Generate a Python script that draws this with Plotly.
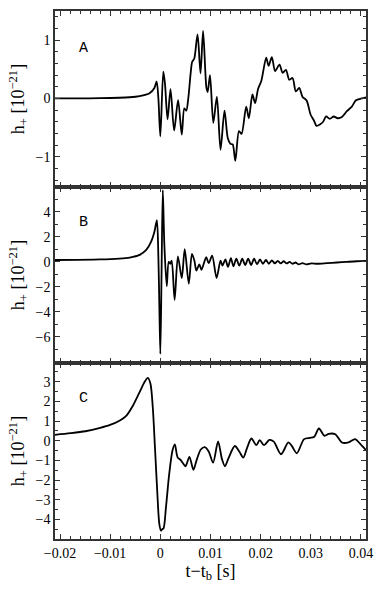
import numpy as np
import plotly.graph_objects as go
from plotly.subplots import make_subplots

# time axis in ms relative to bounce, strain in units of 1e-21
t_a = [-21.0, -12.0, -6.1, -4.13, -2.16, -1.18, -0.73, -0.39, 0.0, 0.59, 0.92, 1.44, 2.03,
       2.75, 3.54, 4.27, 4.78, 5.17, 5.57, 6.04, 6.35, 6.75, 7.42, 8.01, 8.52, 9.19, 9.44,
       9.90, 10.56, 11.27, 12.00, 12.79, 13.44, 13.97, 14.42, 14.95, 15.68, 16.19, 17.12,
       17.65, 18.36, 18.89, 19.48, 20.13, 21.11, 21.58, 22.23, 22.88, 23.75, 24.39, 25.04,
       25.71, 26.36, 27.01, 27.68, 28.33, 29.18, 29.96, 30.63, 31.14, 31.93, 32.46, 33.05,
       33.78, 34.57, 35.35, 36.20, 37.18, 38.17, 39.01, 40.13, 41.0]
h_a = [0.0, 0.005, 0.02, 0.04, 0.09, 0.18, 0.29, 0.0, -0.65, 0.46, 0.26, -0.36, 0.16,
       -0.55, -0.03, -0.62, -0.17, -0.21, 0.0, 0.43, 0.63, 0.68, 1.10, 0.43, 1.16, 0.18, 0.11,
       0.40, -0.42, 0.03, -0.88, -0.21, -0.68, -0.78, -0.79, -1.07, -0.56, -0.61, -0.14,
       -0.34, 0.07, -0.08, 0.16, 0.30, 0.70, 0.56, 0.71, 0.47, 0.58, 0.44, 0.49,
       0.32, 0.35, 0.12, 0.18, 0.03, -0.04, -0.28, -0.38, -0.47, -0.44, -0.40, -0.31,
       -0.35, -0.31, -0.34, -0.32, -0.22, -0.14, -0.03, 0.0, 0.02]

t_b = [-21.0, -12.0, -6.1, -4.13, -2.81, -1.83, -1.18, -0.69, -0.39, -0.20, 0.0, 0.24, 0.49,
       0.79, 1.28, 1.67, 1.97, 2.26, 2.85, 3.50, 4.27, 4.86, 5.67, 6.30, 6.79, 7.18, 7.77,
       8.20, 9.15, 9.64, 10.33, 11.21, 12.0, 12.39, 12.98, 13.48, 14.07, 14.56, 15.15, 15.74,
       16.33, 16.92, 17.51, 18.10, 18.69, 19.28, 19.87, 20.46, 21.05, 21.64, 22.23, 22.82,
       23.41, 24.00, 24.59, 25.18, 25.77, 26.36, 26.95, 27.54, 28.33, 29.12, 30.10, 31.28,
       33.25, 35.21, 37.18, 39.15, 41.0]
h_b = [0.15, 0.2, 0.35, 0.56, 0.96, 1.62, 2.41, 3.34, 0.4, -3.5, -7.37, -1.0, 5.75,
       1.5, -1.95, 0.0, -0.15, 0.1, -3.05, 0.45, -1.29, 1.03, -1.75, 0.64, 0.1, -0.7, -0.2,
       -0.63, 0.38, -0.1, 0.5, -1.29, 0.1, -0.3, 0.2, -0.4, 0.3, -0.35, 0.25, -0.3,
       0.25, -0.25, 0.25, -0.25, 0.25, -0.2, 0.2, -0.15, 0.15, -0.15, 0.12, -0.12,
       0.08, -0.12, 0.05, -0.12, 0.0, -0.15, -0.05, -0.2, -0.1, -0.2, -0.12, -0.15,
       -0.1, -0.05, 0.0, 0.05, 0.08]

t_c = [-21.0, -17.9, -14.95, -12.0, -10.03, -8.07, -6.75, -5.45, -4.13, -3.15, -2.50, -1.97,
       -1.51, -1.04, -0.59, -0.20, 0.14, 0.39, 0.65, 1.12, 1.77, 2.42, 2.89, 3.44, 4.03,
       4.52, 5.02, 5.80, 6.59, 7.28, 8.07, 8.85, 9.64, 10.52, 11.51, 12.30, 12.89, 13.57,
       14.85, 15.74, 16.53, 17.31, 18.16, 19.14, 19.81, 20.66, 21.74, 22.62, 24.06, 25.52,
       26.17, 27.21, 28.66, 29.84, 30.69, 31.61, 32.72, 33.58, 34.88, 36.20, 37.52, 38.82,
       39.80, 41.0]
h_c = [0.3, 0.38, 0.48, 0.65, 0.8, 1.03, 1.28, 1.79, 2.47, 2.98, 3.19, 2.9,
       1.71, -0.5, -2.71, -4.24, -4.58, -4.5, -4.45, -3.39, -1.69, -0.5, -0.19, -0.85, -0.98,
       -1.15, -1.3, -0.82, -1.48, -0.95, -0.45, -0.33, -0.55, -1.12, -0.04, -0.95, -1.3, -0.9,
       -0.27, -0.55, -0.86, -0.35, 0.11, -0.23, 0.03, -0.23, 0.04, -0.05, -0.69, -0.09,
       -0.25, -0.64, 0.08, 0.14, 0.2, 0.62, 0.25, 0.35, 0.33, -0.09, -0.09, 0.08,
       -0.15, -0.48]

x_ticks = [-0.02, -0.01, 0, 0.01, 0.02, 0.03, 0.04]
x_ticktext = ["−0.02", "−0.01", "0", "0.01", "0.02", "0.03", "0.04"]

panels = [("A", t_a, h_a, [-1.52, 1.5], [-1, 0, 1], 0.2, 0.85),
          ("B", t_b, h_b, [-8.1, 6.0], [-6, -4, -2, 0, 2, 4], 1, 3.13),
          ("C", t_c, h_c, [-5.0, 3.95], [-4, -3, -2, -1, 0, 1, 2, 3], 0.5, 2.15)]

fig = make_subplots(rows=3, cols=1, shared_xaxes=True, vertical_spacing=0)

serif = "Liberation Serif, DejaVu Serif, serif"
mono = "Liberation Mono, DejaVu Sans Mono, monospace"
axis_style = dict(showline=True, linecolor="#333", linewidth=1.5, mirror="allticks",
                  ticks="inside", ticklen=5, tickcolor="#333", tickwidth=1.2,
                  showgrid=False, zeroline=False, ticklabeloverflow="allow",
                  tickfont=dict(family=serif, size=14, color="black"))

for i, (label, t, h, yr, yt, mdt, ly) in enumerate(panels, start=1):
    fig.add_trace(go.Scatter(x=np.array(t) / 1000, y=h, mode="lines",
                             line=dict(color="black", width=1.8, shape="spline", smoothing=0.8),
                             showlegend=False), row=i, col=1)
    fig.update_yaxes(axis_style, range=yr, tickvals=yt,
                     minor=dict(dtick=mdt, tick0=0, ticks="inside", ticklen=3, tickcolor="#333"),
                     title=dict(text="h<sub>+</sub> [10<sup>−21</sup>]",
                                font=dict(family=serif, size=18, color="black"), standoff=6),
                     row=i, col=1)
    fig.update_xaxes(axis_style, range=[-0.021, 0.041], tickvals=x_ticks, ticktext=x_ticktext,
                     minor=dict(dtick=0.002, tick0=0, ticks="inside", ticklen=3, tickcolor="#333"),
                     row=i, col=1)
    fig.add_annotation(x=-0.0153, y=ly, text=label, showarrow=False,
                       xref=f"x{i if i > 1 else ''}", yref=f"y{i if i > 1 else ''}",
                       font=dict(family=mono, size=15, color="black"))

fig.update_xaxes(title=dict(text="t−t<sub>b</sub> [s]", font=dict(family=serif, size=18, color="black"),
                            standoff=2), row=3, col=1)

fig.update_layout(width=382, height=591, margin=dict(l=55, r=13, t=9, b=52),
                  plot_bgcolor="white", paper_bgcolor="white")

# drop the browser's default page margin so the figure sits at the window corner
fig.write_html("out.html", config={"displayModeBar": False},
               post_script="document.body.style.margin='0';")
